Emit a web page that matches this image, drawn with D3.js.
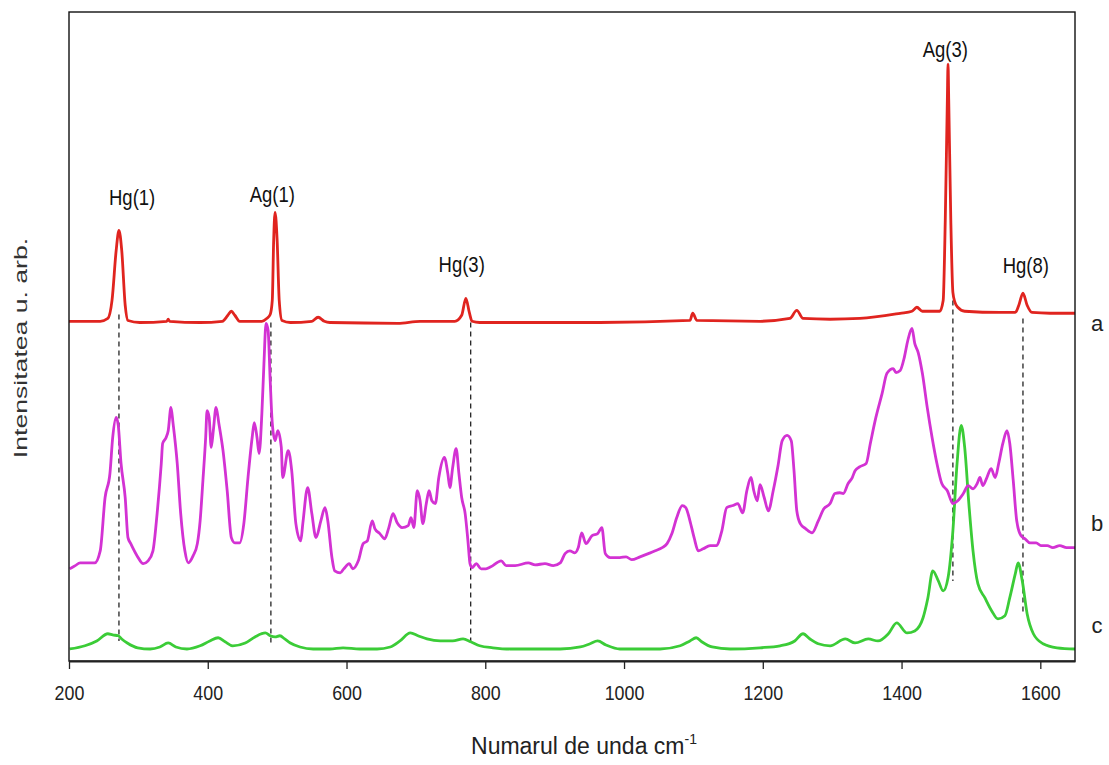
<!DOCTYPE html>
<html lang="ro">
<head>
<meta charset="utf-8">
<style>
  body { margin: 0; background: #fff; }
  svg { display: block; font-family: "Liberation Sans", Arial, sans-serif; }
  .frame { fill: none; stroke: #111; stroke-width: 1.4px; }
  .spec { fill: none; stroke-width: 2.8px; stroke-linejoin: round; }
  .marker { stroke: #111; stroke-width: 1.2px; stroke-dasharray: 5 4; }
</style>
</head>
<body>
<svg width="1109" height="765"></svg>
<script src="https://d3js.org/d3.v7.min.js"></script>
<script>
// stacked spectra: [wavenumber cm-1, intensity a.u.]
var spectrumA = [[200,84.8],[245,84.8],[256,85.5],[262,90],[268,102.5],[272,107.5],[276,102.5],[281,88.8],[285,85],
  [302,84.5],[341,84.8],[343,85.3],[345,84.8],[389,84.5],[421,84.8],[429,86.3],[434,87.3],[439,86.3],[446,84.8],
  [478,84.8],[485,85.5],[490,86.5],[493,90],[495,105],[497,112],[500,105],[503,90],[507,85],[519,84.5],[550,84.8],
  [559,85.8],[568,84.8],[576,84.5],[674,84.3],[706,84.8],[756,84.8],[766,86.3],[772,90.5],[777,87],[781,84.8],
  [792,84.5],[965,84.5],[1095,85],[1099,86.8],[1105,85],[1196,84.8],[1239,85.5],[1249,87.5],[1258,85.5],[1297,85.3],
  [1340,85.5],[1398,86.8],[1415,87.3],[1422,88.3],[1430,87.3],[1455,87.3],[1460,90],[1463,110],[1466,140],[1467,149],
  [1468,140],[1471,110],[1474,92],[1477,89.5],[1481,88.3],[1491,87.3],[1542,87],[1564,87],[1569,88.8],[1575,91.8],
  [1581,88.8],[1588,87],[1614,86.8],[1650,86.8]];

var spectrumB = [[201,23],[209,23.8],[216,24.5],[237,24.5],[245,27.5],[252,40.8],[259,46.8],[263,55.8],[268,60.8],
  [271,58.8],[275,49.3],[281,40.8],[285,30.8],[289,29.3],[298,26.3],[307,24.3],[314,25],[321,27.5],[327,36.8],
  [333,49.3],[335,54.3],[340,55.8],[343,57.5],[347,63.3],[350,59.3],[356,49.3],[361,36.8],[367,27.5],[372,24.5],
  [379,26.3],[385,29.3],[389,35],[393,45],[397,55.8],[399,62.5],[402,60.8],[405,53.3],[408,57.5],[412,63.3],
  [416,59.3],[422,52.5],[428,42.5],[434,30.8],[439,29.5],[446,29.5],[452,34.3],[458,45.8],[464,55.8],[467,59.5],
  [471,55.8],[474,51.8],[478,61.8],[481,74.3],[484,84.3],[487,82.5],[490,70],[493,59.3],[497,55],[501,57.5],
  [506,53.3],[508,45.8],[516,52.5],[521,47.5],[527,34.3],[534,30],[537,34.3],[544,43.3],[550,36.8],[556,30.8],
  [563,35],[569,38.3],[573,35],[579,25.8],[583,22.5],[591,22],[596,23],[604,24.3],[609,23],[617,25],[624,29.3],
  [630,30],[637,35],[641,33],[648,31.8],[655,30.5],[661,33.3],[667,36.8],[673,34.5],[680,33.3],[689,33.8],
  [693,35.8],[697,33.3],[702,42.5],[706,40],[710,34.3],[715,39.3],[719,42.5],[723,40],[728,39.3],[733,45.8],
  [741,50.8],[746,46.8],[749,43.3],[753,48.3],[758,53],[762,46.8],[766,40.8],[771,36.8],[775,30],[778,24.3],
  [781,23.3],[787,24.3],[794,23],[801,23],[808,23.5],[823,25],[830,23.8],[843,23.8],[862,24.5],[872,24],
  [886,24.3],[898,23.8],[908,24.5],[915,26.8],[922,27.5],[929,27],[934,28.3],[939,32],[945,29.3],[954,31.3],
  [962,31.8],[968,33.3],[973,26.8],[980,25.8],[994,25.8],[1003,26],[1011,25.3],[1023,26],[1035,26.8],[1045,27.5],
  [1055,28.3],[1062,29.3],[1069,31.8],[1076,35.8],[1084,38.8],[1089,38.3],[1095,35],[1101,30.8],[1107,27.5],
  [1114,28],[1124,28.8],[1133,28.8],[1141,32.5],[1148,38.3],[1157,38.8],[1164,39.3],[1171,37],[1177,42.5],
  [1183,45.8],[1187,42.5],[1192,40],[1196,44],[1202,40.8],[1208,37.5],[1215,42.5],[1222,48.8],[1228,55],
  [1235,56.3],[1241,55],[1245,47.5],[1249,37.5],[1254,34.3],[1262,33],[1271,32],[1280,35],[1288,38],[1297,39.3],
  [1304,41.8],[1311,42],[1316,41.8],[1323,44.3],[1329,45.8],[1333,47.5],[1340,48.5],[1349,49.3],[1355,54.3],
  [1363,60.8],[1372,66.8],[1379,71.8],[1388,73],[1392,72],[1398,72.5],[1404,75.8],[1409,80],[1415,83],[1419,79.3],
  [1424,77],[1430,71.8],[1437,63.3],[1444,55.8],[1451,49.3],[1458,44.3],[1466,42.5],[1474,39.3],[1481,40],
  [1489,41.8],[1496,43.8],[1503,43],[1509,44.3],[1513,45.8],[1517,43.8],[1523,45.8],[1529,48],[1535,45.8],
  [1540,49.3],[1546,54.3],[1552,57.5],[1556,54.3],[1561,45],[1566,35],[1572,31.3],[1578,30.5],[1585,29.5],
  [1594,29.5],[1601,28.8],[1610,28.8],[1618,28.3],[1628,28.8],[1638,28.3],[1650,28.3]];

var spectrumC = [[201,3],[223,3.8],[240,5],[256,6.8],[263,6.5],[271,6.3],[276,5.5],[284,4.5],[299,3.3],[317,3],
  [331,3.5],[343,4.5],[354,3.5],[370,3],[389,3.8],[403,5],[415,5.8],[425,4.8],[436,3.8],[454,4.5],[468,6],[483,7],
  [490,6.3],[497,6],[504,6.3],[511,5.5],[519,4.5],[533,3.5],[552,3],[576,3],[595,3.3],[619,3],[644,3],[663,3.5],
  [677,5],[692,7],[703,6.3],[716,5.5],[735,5],[753,5],[768,5.5],[779,4.8],[792,3.8],[811,3.3],[836,3],[908,3],
  [937,3.5],[951,4.3],[962,5],[974,4],[994,3],[1052,3],[1081,3.8],[1095,5],[1104,5.8],[1112,4.8],[1127,3.5],
  [1153,3],[1196,3.3],[1225,3.8],[1246,5],[1258,6.8],[1268,5.5],[1280,4.3],[1297,3.8],[1319,5.5],[1333,4.5],
  [1352,5.5],[1366,5],[1381,6.8],[1393,9.5],[1408,7],[1419,7.5],[1431,10.8],[1438,15.8],[1445,22.5],[1453,20],
  [1460,17.5],[1467,20.8],[1474,32.5],[1480,49.3],[1486,58.8],[1491,53.3],[1497,39.3],[1503,27.5],[1510,19.3],
  [1520,15.8],[1530,12.5],[1539,10.5],[1549,11.3],[1556,15.8],[1564,21.8],[1568,24.5],[1574,20],[1581,11.8],
  [1590,6.8],[1604,4.3],[1624,3.3],[1650,3]];

var seriesNames = ["a", "b", "c"];
var seriesColors = ["#e0241f", "#d332d3", "#3bcc37"];
var seriesLabelLevel = [84.3, 34.3, 8.8];

var peakNames = ["Hg(1)", "Ag(1)", "Hg(3)", "Ag(3)", "Hg(8)"];
var peakWave = [272, 491, 779, 1474, 1575];      // dashed guide position
var guideTop = [86.5, 84.5, 84.5, 90, 85.5];
var guideBottom = [5, 4.5, 4.5, 20, 11.8];
var labelWave = [291, 493, 766, 1463, 1579];
var labelLevel = [113.8, 114.5, 97, 150.8, 96.8];

var xTicks = [200, 400, 600, 800, 1000, 1200, 1400, 1600];

var svg = d3.select("svg"),
    margin = {top: 12, right: 34, bottom: 104, left: 69},
    width = +svg.attr("width") - margin.left - margin.right,
    height = +svg.attr("height") - margin.top - margin.bottom;

var x = d3.scaleLinear().domain([200, 1650]).range([0, width]);
var y = d3.scaleLinear().domain([0, 162]).range([height, 0]);

var g = svg.append("g").attr("transform", "translate(" + margin.left + "," + margin.top + ")");

// squeeze text horizontally like the stretched original
function squeeze(sel, ratio) {
  sel.each(function() {
    var len = this.getComputedTextLength();
    d3.select(this).attr("textLength", len * ratio).attr("lengthAdjust", "spacingAndGlyphs");
  });
}

var line = d3.line()
    .x(function(d) { return x(d[0]); })
    .y(function(d) { return y(d[1]); })
    .curve(d3.curveMonotoneX);

// dashed guides
g.selectAll(".marker")
  .data(peakWave)
  .enter().append("line")
  .attr("class", "marker")
  .attr("x1", function(d) { return x(d); })
  .attr("x2", function(d) { return x(d); })
  .attr("y1", function(d, i) { return y(guideTop[i]); })
  .attr("y2", function(d, i) { return y(guideBottom[i]); });

[spectrumC, spectrumB, spectrumA].forEach(function(s, k) {
  g.append("path")
    .datum(s)
    .attr("class", "spec")
    .attr("stroke", seriesColors[2 - k])
    .attr("d", line);
});

// frame + axis
g.append("rect").attr("class", "frame").attr("width", width).attr("height", height);

var xAxis = g.append("g")
  .attr("transform", "translate(0," + height + ")")
  .call(d3.axisBottom(x).tickValues(xTicks).tickSize(8).tickSizeOuter(0).tickPadding(12).tickFormat(d3.format("d")));
xAxis.select(".domain").attr("stroke", "#222").attr("stroke-width", 2);
xAxis.selectAll(".tick line").attr("stroke", "#222").attr("stroke-width", 1.3);
xAxis.selectAll(".tick text")
  .attr("font-family", "'Liberation Sans', Arial, sans-serif")
  .attr("font-size", 21).attr("fill", "#222").attr("dy", "0.9em");
squeeze(xAxis.selectAll(".tick text"), 0.85);

// peak labels
var pl = g.selectAll(".peakLabel")
  .data(peakNames)
  .enter().append("text")
  .attr("class", "peakLabel")
  .attr("x", function(d, i) { return x(labelWave[i]); })
  .attr("y", function(d, i) { return y(labelLevel[i]); })
  .attr("text-anchor", "middle")
  .attr("font-size", 22)
  .attr("fill", "#111")
  .text(function(d) { return d; });
squeeze(pl, 0.84);

// series letters on the right
g.selectAll(".seriesLabel")
  .data(seriesNames)
  .enter().append("text")
  .attr("x", width + 22)
  .attr("y", function(d, i) { return y(seriesLabelLevel[i]); })
  .attr("dy", "0.35em")
  .attr("text-anchor", "middle")
  .attr("font-size", 22)
  .attr("fill", "#222")
  .text(function(d) { return d; });

// axis titles
var xt = svg.append("text")
  .attr("x", margin.left + width / 2 + 12)
  .attr("y", 754)
  .attr("text-anchor", "middle")
  .attr("font-size", 23)
  .attr("fill", "#222");
xt.append("tspan").text("Numarul de unda cm");
xt.append("tspan").attr("font-size", 14).attr("dy", -10).text("-1");

var yt = svg.append("text")
  .attr("transform", "translate(27,348) rotate(-90)")
  .attr("text-anchor", "middle")
  .attr("font-size", 19)
  .attr("fill", "#333")
  .text("Intensitatea u. arb.");
squeeze(yt, 1.4);
</script>
</body>
</html>
